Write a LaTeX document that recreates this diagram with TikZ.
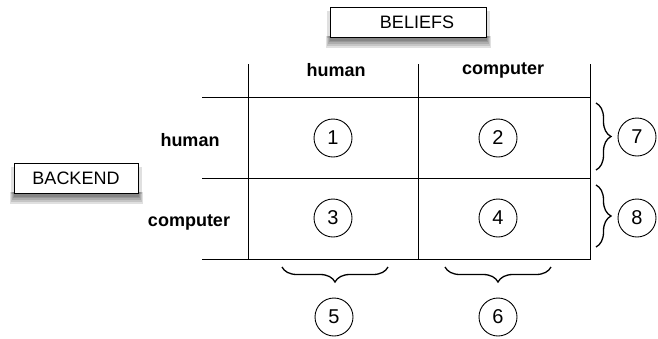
\documentclass[tikz,border=0pt]{standalone}
\usepackage{fontspec}
\setmainfont{Liberation Sans}
\usetikzlibrary{backgrounds,decorations.pathreplacing}
\begin{document}
\begin{tikzpicture}[x=1pt,y=1pt,
  lbl/.style={font=\fontsize{18}{20}\selectfont\bfseries},
  boxnode/.style={draw, line width=1pt, fill=white, minimum height=30pt, inner sep=0pt,
    font=\fontsize{18}{20}\selectfont},
  shade1/.style={fill=black, opacity=0.12},
  num/.style={draw, circle, line width=0.9pt, minimum size=38pt, inner sep=0pt, font=\fontsize{20}{22}\selectfont},
  gridline/.style={line width=1pt},
  brc/.style={decorate, decoration={brace, amplitude=15pt}, line width=1.3pt}]
\useasboundingbox (0,0) rectangle (658,-338);

% boxes
\node[boxnode, minimum width=156pt] (beliefs) at (408,-22) {\hspace*{18pt}BELIEFS};
\node[boxnode, minimum width=124pt] (backend) at (76,-178) {BACKEND};

% soft drop shadows
\begin{scope}[on background layer]
\foreach \b in {beliefs,backend}{
  \fill[shade1] ([xshift=-4pt,yshift=2pt]\b.south west) rectangle ([xshift=4pt,yshift=-10pt]\b.south east);
  \fill[shade1] ([xshift=-3pt,yshift=2pt]\b.south west) rectangle ([xshift=3pt,yshift=-8pt]\b.south east);
  \fill[shade1] ([xshift=-2pt,yshift=2pt]\b.south west) rectangle ([xshift=2pt,yshift=-6pt]\b.south east);
  \fill[shade1] ([xshift=-1pt,yshift=2pt]\b.south west) rectangle ([xshift=1pt,yshift=-4pt]\b.south east);
  \fill[shade1] ([xshift=0pt,yshift=2pt]\b.south west) rectangle ([xshift=0pt,yshift=-3pt]\b.south east);
  \fill[shade1] ([xshift=-3pt,yshift=-4pt]\b.north west) rectangle ([xshift=3pt,yshift=0pt]\b.south east);
}
\end{scope}

% grid coordinates
\coordinate (v1t) at (248,-64);  \coordinate (v1b) at (248,-260);
\coordinate (v2t) at (418,-64);  \coordinate (v2b) at (418,-260);
\coordinate (v3t) at (590,-64);  \coordinate (v3b) at (590,-260);
\coordinate (h1l) at (202,-97);  \coordinate (h1r) at (590,-97);
\coordinate (h2l) at (202,-178); \coordinate (h2r) at (590,-178);
\coordinate (h3l) at (202,-259); \coordinate (h3r) at (590,-259);
\draw[gridline] (v1t) -- (v1b);
\draw[gridline] (v2t) -- (v2b);
\draw[gridline] (v3t) -- (v3b);
\draw[gridline] (h1l) -- (h1r);
\draw[gridline] (h2l) -- (h2r);
\draw[gridline] (h3l) -- (h3r);

% headers
\node[lbl] (colh) at (336,-70) {human};
\node[lbl] (colc) at (503,-70) {computer};
\node[lbl] (rowh) at (190,-140) {human};
\node[lbl] (rowc) at (189,-222) {computer};

% numbered circles
\node[num] (n1) at (333,-138) {1};
\node[num] (n2) at (498,-138) {2};
\node[num] (n3) at (333,-218) {3};
\node[num] (n4) at (498,-218) {4};
\node[num] (n5) at (334,-317) {5};
\node[num] (n6) at (498,-317) {6};
\node[num] (n7) at (637,-137) {7};
\node[num] (n8) at (637,-218) {8};

% braces
\coordinate (b7t) at (596,-103); \coordinate (b7b) at (596,-170);
\coordinate (b8t) at (596,-185); \coordinate (b8b) at (596,-247);
\coordinate (b5r) at (388,-267); \coordinate (b5l) at (282,-267);
\coordinate (b6r) at (551,-267); \coordinate (b6l) at (445,-267);
\draw[brc] (b7t) -- (b7b);
\draw[brc] (b8t) -- (b8b);
\draw[brc] (b5r) -- (b5l);
\draw[brc] (b6r) -- (b6l);
\end{tikzpicture}
\end{document}
